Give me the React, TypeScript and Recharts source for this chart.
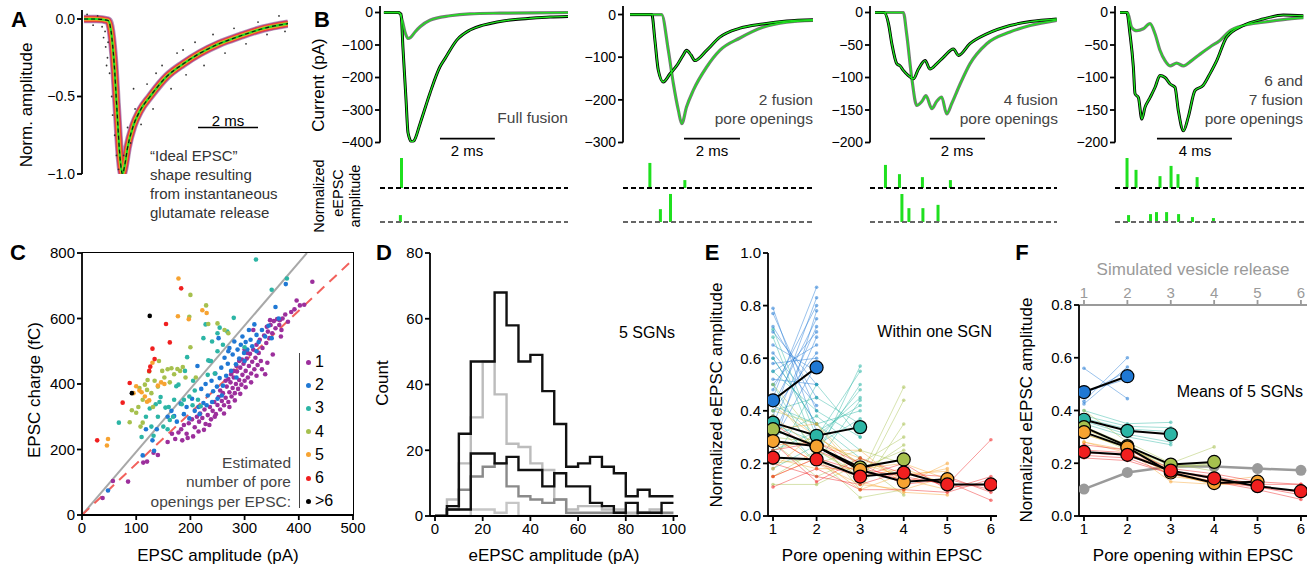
import React from "react";
import {
  ComposedChart,
  LineChart,
  ScatterChart,
  BarChart,
  Line,
  Scatter,
  Bar,
  XAxis,
  YAxis,
  ReferenceLine,
} from "recharts";

// ---------- A: ideal EPSC (time in ms, normalized amplitude) ----------
const A_T = [0, 0.4, 0.8, 0.9, 1.0, 1.1, 1.2, 1.28, 1.35, 1.45, 1.64, 1.87, 2.2, 2.76, 3.3, 3.87, 4.5, 5.2, 6.0, 6.8];
const A_V = [0, 0, -0.01, -0.08, -0.28, -0.6, -0.9, -1.0, -0.95, -0.83, -0.69, -0.59, -0.5, -0.37, -0.29, -0.22, -0.16, -0.11, -0.06, -0.03];
const A_NOISE = [
  [0.1, 0.03], [0.3, -0.04], [0.45, 0.02], [0.6, -0.05], [0.65, -0.12], [0.7, -0.08], [0.72, -0.18],
  [0.78, -0.25], [0.8, -0.15], [0.75, -0.3], [0.85, -0.35], [0.92, -0.5], [0.95, -0.62], [1.02, -0.75],
  [1.08, -0.88], [1.15, -0.97], [1.32, -0.88], [1.45, -0.7], [1.55, -0.8], [1.7, -0.58], [1.9, -0.68],
  [2.1, -0.42], [2.3, -0.58], [2.6, -0.3], [2.9, -0.45], [3.1, -0.22], [3.4, -0.36], [3.7, -0.15],
  [4.0, -0.3], [4.3, -0.1], [4.7, -0.22], [5.0, -0.06], [5.4, -0.16], [5.8, -0.02], [6.1, -0.1],
  [6.5, 0.02], [6.7, -0.08], [3.3, -0.2], [2.4, -0.35], [1.65, -0.45],
];

// ---------- B: example EPSCs (time in ms, current in pA) ----------
const B1_T_BLACK = [0, 0.5, 0.61, 0.68, 0.79, 0.86, 0.99, 1.07, 1.29, 1.64, 2.0, 2.18, 2.6, 3.07, 3.54, 4.04, 4.61, 5.21, 5.93, 6.57];
const B1_V_BLACK = [0, 0, -5, -110, -270, -370, -398, -395, -342, -249, -167, -142, -85, -54, -39, -29, -22, -18, -14, -12];
const B1_T_GRAY = [0, 0.54, 0.64, 0.75, 0.86, 0.96, 1.11, 1.29, 1.64, 2.36, 3.07, 4.14, 5.3, 6.57];
const B1_V_GRAY = [0, 0, -20, -60, -80, -76, -60, -44, -24, -10, -4, -2, -1, 0];

const B2_T_BLACK = [0, 0.78, 0.89, 1.01, 1.19, 1.43, 1.67, 1.9, 2.02, 2.18, 2.32, 2.74, 3.21, 3.93, 4.75, 5.6, 6.54];
const B2_V_BLACK = [0, 0, -60, -130, -158, -139, -120, -95, -84, -95, -108, -84, -53, -32, -22, -15, -12];
const B2_T_GRAY = [0, 1.13, 1.37, 1.55, 1.73, 1.85, 2.02, 2.26, 2.74, 3.21, 3.93, 4.75, 5.6, 6.54];
const B2_V_GRAY = [0, 0, -84, -162, -225, -256, -217, -178, -123, -84, -55, -30, -18, -14];

const B3_T_BLACK = [0, 0.32, 0.48, 0.6, 0.78, 0.89, 1.01, 1.19, 1.37, 1.55, 1.79, 1.96, 2.2, 2.44, 2.8, 2.98, 3.39, 3.99, 4.82, 5.54, 6.49];
const B3_V_BLACK = [0, 0, -17, -48, -79, -82, -89, -97, -102, -87, -74, -87, -79, -69, -56, -66, -48, -33, -20, -14, -10];
const B3_T_GRAY = [0, 1.01, 1.13, 1.31, 1.49, 1.67, 1.82, 2.03, 2.2, 2.38, 2.56, 2.74, 3.04, 3.39, 3.99, 4.82, 5.54, 6.49];
const B3_V_GRAY = [0, 0, -33, -100, -143, -137, -128, -148, -137, -130, -156, -140, -110, -79, -48, -30, -20, -12];

const B4_T_BLACK = [0, 0.36, 0.53, 0.71, 0.8, 0.98, 1.16, 1.33, 1.6, 1.87, 2.13, 2.4, 2.67, 2.93, 3.11, 3.38, 3.64, 4.0, 4.44, 4.8, 5.16, 5.69, 6.58, 7.64, 8.71, 9.78];
const B4_V_BLACK = [0, 0, -33, -84, -125, -131, -164, -146, -131, -115, -97, -100, -110, -115, -151, -182, -161, -120, -112, -94, -74, -38, -20, -10, -4, -5];
const B4_T_GRAY = [0, 0.4, 0.62, 0.89, 1.24, 1.6, 1.87, 2.13, 2.4, 2.67, 3.02, 3.38, 3.82, 4.27, 4.8, 5.33, 5.87, 6.58, 7.64, 8.71, 9.78];
const B4_V_GRAY = [0, 0, -23, -28, -25, -17, -33, -58, -74, -82, -78, -82, -74, -64, -53, -43, -28, -20, -15, -11, -8];

// fusion pore openings (time in ms, normalized eEPSC amplitude)
const B1_UP_T = [0.61];
const B1_UP_A = [0.91];
const B1_LOW_T = [0.57];
const B1_LOW_A = [0.21];
const B2_UP_T = [0.71, 1.96];
const B2_UP_A = [0.76, 0.24];
const B2_LOW_T = [1.07, 1.43];
const B2_LOW_A = [0.39, 0.85];
const B3_UP_T = [0.39, 0.89, 1.71, 2.71];
const B3_UP_A = [0.7, 0.42, 0.33, 0.24];
const B3_LOW_T = [0.96, 1.21, 1.71, 2.25];
const B3_LOW_A = [0.85, 0.42, 0.42, 0.52];
const B4_UP_T = [0.37, 0.85, 2.13, 2.72, 3.09, 4.11];
const B4_UP_A = [0.91, 0.55, 0.36, 0.67, 0.42, 0.33];
const B4_LOW_T = [0.48, 1.65, 1.97, 2.51, 3.15, 3.89, 5.01];
const B4_LOW_A = [0.21, 0.24, 0.3, 0.3, 0.24, 0.15, 0.12];

// ---------- C: EPSC amplitude (pA) vs charge (fC) ----------
const C_PURPLE = [
  [38, 52], [57, 104], [85, 102], [113, 160], [120, 163], [132, 190], [140, 183], [158, 223], [166, 248], [172, 232],
  [178, 252], [183, 262], [188, 275], [193, 248], [197, 280], [203, 292], [208, 268], [212, 300], [216, 285], [218, 310],
  [222, 296], [226, 322], [228, 278], [232, 305], [236, 330], [238, 292], [241, 318], [244, 345], [247, 308], [250, 336],
  [252, 360], [255, 322], [258, 348], [260, 372], [262, 335], [265, 358], [267, 392], [270, 345], [272, 375], [274, 405],
  [276, 362], [278, 388], [280, 420], [282, 372], [284, 400], [286, 438], [288, 385], [290, 412], [292, 450], [294, 398],
  [296, 428], [298, 462], [300, 410], [302, 440], [304, 478], [306, 420], [308, 455], [310, 492], [312, 432], [314, 468],
  [316, 505], [318, 445], [320, 480], [322, 520], [324, 458], [326, 495], [328, 535], [330, 470], [333, 510], [336, 548],
  [338, 430], [340, 525], [343, 560], [346, 540], [348, 580], [351, 555], [354, 592], [357, 570], [360, 598], [364, 580],
  [367, 545], [370, 600], [375, 612], [380, 590], [386, 620], [392, 628], [396, 655], [402, 640], [410, 642], [425, 712],
  [347, 595], [341, 575], [365, 595], [368, 565], [316, 565], [255, 380], [265, 410], [275, 430], [285, 455], [295, 475],
  [305, 495], [245, 300], [235, 275], [225, 260], [215, 255], [205, 240], [195, 235], [185, 228], [262, 310], [272, 330],
  [282, 350], [292, 370], [302, 390], [312, 405], [322, 425], [332, 445], [342, 465], [352, 490], [300, 505], [290, 470],
  [280, 440], [270, 415],
];
const C_BLUE = [
  [48, 75], [112, 182], [130, 228], [133, 196], [118, 262], [138, 262], [158, 300], [165, 318], [170, 302], [175, 285],
  [182, 340], [188, 308], [193, 330], [198, 295], [203, 355], [208, 318], [213, 455], [217, 308], [220, 385], [224, 342],
  [228, 400], [232, 365], [236, 470], [239, 410], [242, 378], [246, 432], [249, 392], [252, 540], [254, 418], [257, 450],
  [260, 395], [263, 480], [266, 425], [269, 462], [272, 510], [275, 440], [278, 490], [281, 530], [284, 460], [287, 505],
  [290, 478], [293, 520], [296, 545], [299, 495], [302, 528], [305, 505], [308, 565], [311, 535], [314, 515], [318, 582],
  [322, 550], [326, 528], [332, 565], [338, 545], [344, 578], [350, 540], [357, 635], [363, 600], [376, 705], [322, 500],
  [250, 355], [258, 365], [285, 420], [300, 470], [230, 335], [215, 330], [270, 500], [240, 345],
];
const C_TEAL = [
  [68, 282], [110, 238], [118, 300], [125, 325], [128, 270], [132, 242], [140, 300], [143, 345], [150, 270], [154, 328],
  [158, 262], [162, 290], [168, 300], [170, 352], [174, 393], [178, 398], [184, 338], [188, 352], [194, 482], [198, 362],
  [204, 335], [208, 380], [214, 352], [219, 332], [224, 540], [228, 582], [233, 472], [240, 530], [245, 432], [250, 555],
  [254, 572], [260, 520], [268, 560], [280, 602], [300, 512], [321, 780], [350, 688], [378, 722], [190, 440], [205, 410],
  [232, 428], [136, 338], [145, 360], [160, 330], [250, 500], [238, 470],
];
const C_OLIVE = [
  [88, 283], [92, 320], [100, 312], [104, 330], [106, 388], [108, 270], [112, 282], [116, 398], [121, 412], [124, 438],
  [128, 372], [134, 410], [140, 392], [131, 330], [148, 440], [152, 420], [158, 445], [165, 448], [170, 430], [176, 446],
  [181, 440], [186, 452], [191, 420], [200, 672], [198, 605], [200, 512], [229, 640], [233, 583], [250, 585], [263, 565],
  [270, 555], [210, 420], [142, 470], [120, 382], [112, 352], [162, 405],
];
const C_ORANGE = [
  [48, 232], [46, 212], [95, 372], [100, 393], [106, 380], [110, 375], [124, 350], [120, 346], [130, 465], [140, 395],
  [146, 405], [152, 400], [178, 722], [177, 607], [197, 598], [222, 625], [230, 617], [116, 362],
];
const C_RED = [[28, 228], [75, 343], [88, 403], [124, 440], [130, 508], [134, 476], [155, 583], [162, 527], [183, 692], [126, 453]];
const C_BLACK = [[125, 608], [92, 372]];
const C_LEGEND = ["1", "2", "3", "4", "5", "6", ">6"];

// ---------- D: eEPSC amplitude histograms, 5 SGNs (bins of 5 pA) ----------
const D_EDGES = [0, 5, 10, 15, 20, 25, 30, 35, 40, 45, 50, 55, 60, 65, 70, 75, 80, 85, 90, 95, 100];
const D_H1 = [0, 3, 25, 47, 47, 68, 58, 47, 49, 38, 28, 15, 16, 18, 15, 13, 6, 8, 6, 6];
const D_H2 = [0, 5, 16, 30, 47, 37, 22, 21, 16, 14, 5, 2, 3, 3, 2, 2, 1, 1, 2, 0];
const D_H3 = [0, 2, 8, 12, 15, 16, 9, 6, 5, 4, 5, 1, 1, 1, 1, 1, 0, 1, 1, 1];
const D_H4 = [0, 2, 2, 19, 19, 16, 18, 14, 14, 9, 13, 9, 9, 4, 3, 1, 4, 1, 1, 4];
const D_H5 = [0, 0, 0, 2, 2, 1, 4, 0, 0, 0, 0, 0, 0, 0, 0, 0, 0, 0, 0, 0];

// ---------- E: within one SGN ----------
const E_BLUE = [
  [0.79, 0.32], [0.77, 0.4], [0.72, 0.45], [0.7, 0.5], [0.65, 0.55], [0.6, 0.35], [0.58, 0.6], [0.55, 0.65],
  [0.5, 0.7], [0.48, 0.8], [0.45, 0.87], [0.42, 0.75], [0.4, 0.62], [0.38, 0.83], [0.35, 0.72], [0.3, 0.68],
  [0.28, 0.58], [0.25, 0.78], [0.62, 0.42], [0.52, 0.5],
];
const E_TEAL = [
  [0.71, 0.3, 0.45], [0.68, 0.25, 0.5], [0.6, 0.35, 0.4], [0.55, 0.4, 0.3], [0.5, 0.22, 0.57], [0.45, 0.3, 0.55],
  [0.4, 0.45, 0.35], [0.35, 0.28, 0.48], [0.3, 0.38, 0.25], [0.25, 0.32, 0.42], [0.2, 0.5, 0.3], [0.18, 0.27, 0.37],
  [0.42, 0.35, 0.22], [0.38, 0.2, 0.44],
];
const E_OLIVE = [
  [0.5, 0.3, 0.2, 0.3], [0.45, 0.25, 0.15, 0.49], [0.4, 0.35, 0.18, 0.25], [0.35, 0.2, 0.25, 0.2], [0.3, 0.28, 0.12, 0.44],
  [0.28, 0.15, 0.22, 0.15], [0.25, 0.3, 0.1, 0.35], [0.2, 0.22, 0.07, 0.1], [0.15, 0.25, 0.16, 0.27], [0.12, 0.12, 0.2, 0.08],
];
const E_ORANGE = [
  [0.42, 0.3, 0.2, 0.15, 0.18], [0.38, 0.25, 0.25, 0.12, 0.2], [0.33, 0.35, 0.15, 0.18, 0.12], [0.3, 0.2, 0.12, 0.1, 0.15],
  [0.27, 0.28, 0.22, 0.14, 0.1], [0.22, 0.18, 0.18, 0.2, 0.14], [0.18, 0.32, 0.13, 0.09, 0.08], [0.15, 0.22, 0.1, 0.16, 0.17],
];
const E_RED = [
  [0.35, 0.25, 0.18, 0.15, 0.12, 0.29], [0.3, 0.2, 0.15, 0.2, 0.1, 0.15], [0.25, 0.28, 0.2, 0.12, 0.14, 0.1],
  [0.2, 0.15, 0.12, 0.17, 0.11, 0.12], [0.15, 0.22, 0.17, 0.14, 0.13, 0.06], [0.11, 0.18, 0.1, 0.1, 0.09, 0.14],
  [0.28, 0.13, 0.22, 0.16, 0.15, 0.09],
];
const E_MEAN_BLUE = [0.44, 0.565];
const E_MEAN_TEAL = [0.355, 0.305, 0.338];
const E_MEAN_OLIVE = [0.33, 0.265, 0.185, 0.215];
const E_MEAN_ORANGE = [0.285, 0.265, 0.175, 0.13, 0.14];
const E_MEAN_RED = [0.222, 0.215, 0.15, 0.165, 0.12, 0.12];

// ---------- F: means of 5 SGNs ----------
const F_BLUE = [[0.56, 0.445], [0.435, 0.6], [0.425, 0.565], [0.47, 0.52], [0.46, 0.55]];
const F_TEAL = [[0.4, 0.35, 0.355], [0.38, 0.34, 0.335], [0.37, 0.33, 0.32], [0.36, 0.31, 0.28], [0.35, 0.3, 0.27]];
const F_OLIVE = [[0.4, 0.28, 0.2, 0.262], [0.34, 0.27, 0.19, 0.2], [0.33, 0.26, 0.19, 0.19], [0.32, 0.25, 0.2, 0.17], [0.31, 0.26, 0.18, 0.2]];
const F_ORANGE = [
  [0.33, 0.27, 0.17, 0.13, 0.15], [0.32, 0.26, 0.16, 0.12, 0.13], [0.31, 0.26, 0.15, 0.13, 0.13],
  [0.28, 0.25, 0.13, 0.12, 0.12], [0.28, 0.24, 0.16, 0.12, 0.13],
];
const F_RED = [
  [0.27, 0.25, 0.18, 0.16, 0.13, 0.12], [0.25, 0.24, 0.17, 0.15, 0.12, 0.12], [0.24, 0.23, 0.17, 0.14, 0.11, 0.09],
  [0.23, 0.22, 0.16, 0.13, 0.11, 0.08], [0.22, 0.21, 0.16, 0.13, 0.1, 0.063],
];
const F_MEAN_BLUE = [0.47, 0.53];
const F_MEAN_TEAL = [0.365, 0.323, 0.31];
const F_MEAN_OLIVE = [0.337, 0.265, 0.195, 0.205];
const F_MEAN_ORANGE = [0.318, 0.26, 0.165, 0.125, 0.13];
const F_MEAN_RED = [0.243, 0.232, 0.172, 0.143, 0.113, 0.094];
const F_SIM = [0.102, 0.165, 0.188, 0.188, 0.18, 0.173];

const OPENINGS = [1, 2, 3, 4, 5, 6];

// ---------- styling ----------
const FONT = '"Liberation Sans", Arial, Helvetica, sans-serif';
const PURPLE = "#9c2f9c";
const BLUE = "#1f78d4";
const TEAL = "#2cb5a5";
const OLIVE = "#a6c04e";
const ORANGE = "#f7a331";
const RED = "#f01f1f";
const GREEN = "#1fe01f";
const M0 = { top: 0, right: 0, bottom: 0, left: 0 };
// room around each plot so that end tick labels are not clipped
const PT = 12;
const PR = 16;
const PAD = { top: PT, right: PR, bottom: PT, left: 0 };
const AX = { stroke: "#000", strokeWidth: 1.8 };
const TICK = { fill: "#000", fontSize: 14 };

const minus = (d: number) => (v: number) => (v < 0 ? "\u2212" + Math.abs(v).toFixed(d) : v.toFixed(d));
const at = (left: number, top: number): React.CSSProperties => ({ position: "absolute", left, top });
const zip = (t: number[], v: number[]) => t.map((x, i) => ({ t: x, v: v[i] }));
const pts = (rows: number[][]) => rows.map(([x, y]) => ({ x, y }));
const series = (ys: number[]) => ys.map((y, i) => ({ x: OPENINGS[i], y }));
const dotShape = (r: number, fill: string) => (p: any) => <circle cx={p.cx} cy={p.cy} r={r} fill={fill} />;

function Txt({ x, y, children, anchor = "middle", size = 17, color = "#000", rot = false, bold = false }: any) {
  const tx = anchor === "middle" ? "-50%" : anchor === "end" ? "-100%" : "0%";
  return (
    <div
      style={{
        position: "absolute",
        left: x,
        top: y,
        transform: `translate(${tx},-50%)` + (rot ? " rotate(-90deg)" : ""),
        fontSize: size,
        color,
        fontWeight: bold ? 700 : 400,
        whiteSpace: "nowrap",
        lineHeight: 1,
      }}
    >
      {children}
    </div>
  );
}

const B_PANELS = [
  {
    axisX: 380, right: 568, top: 5.5, yDom: [-400, 20], yTicks: [-400, -300, -200, -100, 0], tDom: [-0.14, 6.57],
    black: zip(B1_T_BLACK, B1_V_BLACK), gray: zip(B1_T_GRAY, B1_V_GRAY), bar: [2.0, 3.96], barY: -388,
    up: zip(B1_UP_T, B1_UP_A), low: zip(B1_LOW_T, B1_LOW_A),
  },
  {
    axisX: 623, right: 813, top: 5.5, yDom: [-300, 20], yTicks: [-300, -200, -100, 0], tDom: [-0.25, 6.54],
    black: zip(B2_T_BLACK, B2_V_BLACK), gray: zip(B2_T_GRAY, B2_V_GRAY), bar: [1.93, 3.93], barY: -291,
    up: zip(B2_UP_T, B2_UP_A), low: zip(B2_LOW_T, B2_LOW_A),
  },
  {
    axisX: 870, right: 1057, top: 5.5, yDom: [-200, 10], yTicks: [-200, -150, -100, -50, 0], tDom: [-0.18, 6.5],
    black: zip(B3_T_BLACK, B3_V_BLACK), gray: zip(B3_T_GRAY, B3_V_GRAY), bar: [1.96, 3.93], barY: -194,
    up: zip(B3_UP_T, B3_UP_A), low: zip(B3_LOW_T, B3_LOW_A),
  },
  {
    axisX: 1115, right: 1305, top: 5.5, yDom: [-200, 10], yTicks: [-200, -150, -100, -50, 0], tDom: [-0.27, 9.87],
    black: zip(B4_T_BLACK, B4_V_BLACK), gray: zip(B4_T_GRAY, B4_V_GRAY), bar: [1.97, 5.97], barY: -194,
    up: zip(B4_UP_T, B4_UP_A), low: zip(B4_LOW_T, B4_LOW_A),
  },
];

function Stems({ left, width, top, data, tDom, base }: any) {
  return (
    <div style={at(left, top)}>
      <BarChart width={width} height={35} margin={M0} data={data}>
        <XAxis dataKey="t" type="number" domain={tDom} hide allowDataOverflow />
        <YAxis type="number" domain={[-0.06, 1]} hide allowDataOverflow />
        <ReferenceLine y={0} stroke={base} strokeWidth={2} strokeDasharray="5 3" />
        <Bar dataKey="v" fill={GREEN} barSize={3} isAnimationActive={false} />
      </BarChart>
    </div>
  );
}

function BPanel({ p }: any) {
  const left = p.axisX - 48;
  const w = p.right - left;
  const traces = [
    { d: p.gray, c: "#777", w: 3.2 },
    { d: p.black, c: "#000", w: 3 },
    { d: p.gray, c: GREEN, w: 1.4 },
    { d: p.black, c: GREEN, w: 1.4 },
  ];
  return (
    <>
      <div style={at(left, p.top - PT)}>
        <LineChart width={w + PR} height={142 - p.top + 2 * PT} margin={PAD}>
          <XAxis dataKey="t" type="number" domain={p.tDom} hide allowDataOverflow />
          <YAxis
            type="number" domain={p.yDom} ticks={p.yTicks} interval={0} tickFormatter={minus(0)} width={48}
            axisLine={AX} tickLine={AX} tickSize={5} tick={TICK} allowDataOverflow
          />
          {traces.map((s, i) => (
            <Line key={i} data={s.d} dataKey="v" stroke={s.c} strokeWidth={s.w} dot={false} type="monotone" isAnimationActive={false} />
          ))}
          <ReferenceLine segment={[{ x: p.bar[0], y: p.barY }, { x: p.bar[1], y: p.barY }]} stroke="#000" strokeWidth={1.6} />
        </LineChart>
      </div>
      <Stems left={p.axisX} width={p.right - p.axisX} top={155} data={p.up} tDom={p.tDom} base="#000" />
      <Stems left={p.axisX} width={p.right - p.axisX} top={189} data={p.low} tDom={p.tDom} base="#666" />
    </>
  );
}

const C_GROUPS = [
  { rows: C_PURPLE, c: PURPLE },
  { rows: C_BLUE, c: BLUE },
  { rows: C_TEAL, c: TEAL },
  { rows: C_OLIVE, c: OLIVE },
  { rows: C_ORANGE, c: ORANGE },
  { rows: C_RED, c: RED },
  { rows: C_BLACK, c: "#000" },
];

const E_BG = [
  { rows: E_BLUE, c: BLUE },
  { rows: E_TEAL, c: TEAL },
  { rows: E_OLIVE, c: OLIVE },
  { rows: E_ORANGE, c: ORANGE },
  { rows: E_RED, c: RED },
];
const E_MEANS = [
  { ys: E_MEAN_BLUE, c: BLUE },
  { ys: E_MEAN_TEAL, c: TEAL },
  { ys: E_MEAN_OLIVE, c: OLIVE },
  { ys: E_MEAN_ORANGE, c: ORANGE },
  { ys: E_MEAN_RED, c: RED },
];
const F_BG = [
  { rows: F_BLUE, c: BLUE },
  { rows: F_TEAL, c: TEAL },
  { rows: F_OLIVE, c: OLIVE },
  { rows: F_ORANGE, c: ORANGE },
  { rows: F_RED, c: RED },
];
const F_MEANS = [
  { ys: F_MEAN_BLUE, c: BLUE },
  { ys: F_MEAN_TEAL, c: TEAL },
  { ys: F_MEAN_OLIVE, c: OLIVE },
  { ys: F_MEAN_ORANGE, c: ORANGE },
  { ys: F_MEAN_RED, c: RED },
];

function bgLines(groups: any[], prefix: string) {
  return groups.flatMap((g, gi) =>
    g.rows.map((row: number[], ri: number) => (
      <Line
        key={`${prefix}${gi}-${ri}`}
        data={series(row)}
        dataKey="y"
        stroke={g.c}
        strokeOpacity={0.45}
        strokeWidth={1}
        dot={{ r: 1.8, fill: g.c, fillOpacity: 0.55, stroke: "none" }}
        type="linear"
        isAnimationActive={false}
      />
    ))
  );
}

function meanLines(groups: any[], prefix: string) {
  return groups.map((g, i) => (
    <Line
      key={`${prefix}${i}`}
      data={series(g.ys)}
      dataKey="y"
      stroke="#000"
      strokeWidth={2}
      dot={{ r: 6.5, fill: g.c, fillOpacity: 1, stroke: "#000", strokeWidth: 1.2 }}
      type="linear"
      isAnimationActive={false}
    />
  ));
}

export default function App() {
  const aTrace = zip(A_T, A_V);
  const aNoise = A_NOISE.map(([t, v]) => ({ t, v }));
  const band = [
    { c: "#5a1f66", w: 8.5, o: 0.45 },
    { c: "#c0307a", w: 7, o: 0.9 },
    { c: "#ee4a2a", w: 5.5, o: 1 },
    { c: "#f7a431", w: 3.5, o: 1 },
  ];
  const hist = D_EDGES.map((x, i) => {
    const k = Math.min(i, D_H1.length - 1);
    return { x, h1: D_H1[k], h2: D_H2[k], h3: D_H3[k], h4: D_H4[k], h5: D_H5[k] };
  });
  const histStyle = [
    { k: "h5", c: "#c6c6c6" },
    { k: "h2", c: "#bcbcbc" },
    { k: "h3", c: "#8a8a8a" },
    { k: "h4", c: "#111" },
    { k: "h1", c: "#111" },
  ];
  const xTicks16 = { fill: "#000", fontSize: 15 };

  return (
    <div
      style={{
        position: "absolute", left: 0, top: 0, width: 1313, height: 567,
        background: "#fff", fontFamily: FONT, overflow: "hidden",
      }}
    >
      {/* ---------------- A ---------------- */}
      <div style={at(22, 10 - PT)}>
        <ComposedChart width={266 + PR} height={164 + 2 * PT} margin={PAD}>
          <XAxis dataKey="t" type="number" domain={[-0.07, 6.8]} hide allowDataOverflow />
          <YAxis
            dataKey="v" type="number" domain={[-1, 0.058]} ticks={[-1, -0.5, 0]} interval={0} tickFormatter={minus(1)}
            width={60} axisLine={AX} tickLine={AX} tickSize={5} tick={TICK} allowDataOverflow
          />
          {band.map((b, i) => (
            <Line key={i} data={aTrace} dataKey="v" stroke={b.c} strokeOpacity={b.o} strokeWidth={b.w} dot={false} type="monotone" isAnimationActive={false} />
          ))}
          <Scatter data={aNoise} dataKey="v" shape={dotShape(0.9, "#333")} isAnimationActive={false} />
          <Line data={aTrace} dataKey="v" stroke={GREEN} strokeWidth={2.2} dot={false} type="monotone" isAnimationActive={false} />
          <Line data={aTrace} dataKey="v" stroke="#111" strokeWidth={1.2} strokeDasharray="4 3" dot={false} type="monotone" isAnimationActive={false} />
          <ReferenceLine segment={[{ x: 3.8, y: -0.7 }, { x: 5.8, y: -0.7 }]} stroke="#000" strokeWidth={1.6} />
        </ComposedChart>
      </div>
      <Txt x={19} y={20} size={22} bold>A</Txt>
      <Txt x={26} y={105} rot>Norm. amplitude</Txt>
      <Txt x={228} y={120} size={15}>2 ms</Txt>
      <Txt x={150} y={155} size={15} anchor="start" color="#333">“Ideal EPSC”</Txt>
      <Txt x={150} y={174} size={15} anchor="start" color="#333">shape resulting</Txt>
      <Txt x={150} y={193} size={15} anchor="start" color="#333">from instantaneous</Txt>
      <Txt x={150} y={212} size={15} anchor="start" color="#333">glutamate release</Txt>

      {/* ---------------- B ---------------- */}
      {B_PANELS.map((p, i) => (
        <BPanel key={i} p={p} />
      ))}
      <Txt x={322} y={20} size={22} bold>B</Txt>
      <Txt x={318} y={85} rot>Current (pA)</Txt>
      <Txt x={319} y={196} size={14.5} rot>Normalized</Txt>
      <Txt x={338} y={193} size={14.5} rot>eEPSC</Txt>
      <Txt x={355} y={196} size={14.5} rot>amplitude</Txt>
      <Txt x={568} y={118} size={15.5} anchor="end" color="#444">Full fusion</Txt>
      <Txt x={813} y={100} size={15.5} anchor="end" color="#444">2 fusion</Txt>
      <Txt x={813} y={119} size={15.5} anchor="end" color="#444">pore openings</Txt>
      <Txt x={1058} y={100} size={15.5} anchor="end" color="#444">4 fusion</Txt>
      <Txt x={1058} y={119} size={15.5} anchor="end" color="#444">pore openings</Txt>
      <Txt x={1303} y={81} size={15.5} anchor="end" color="#444">6 and</Txt>
      <Txt x={1303} y={100} size={15.5} anchor="end" color="#444">7 fusion</Txt>
      <Txt x={1303} y={119} size={15.5} anchor="end" color="#444">pore openings</Txt>
      <Txt x={467} y={150} size={15}>2 ms</Txt>
      <Txt x={712} y={150} size={15}>2 ms</Txt>
      <Txt x={957} y={150} size={15}>2 ms</Txt>
      <Txt x={1195} y={150} size={15}>4 ms</Txt>

      {/* ---------------- C ---------------- */}
      <div style={at(32, 253 - PT)}>
        <ScatterChart width={321 + PR} height={292 + 2 * PT} margin={PAD}>
          <XAxis
            dataKey="x" type="number" domain={[0, 500]} ticks={[0, 100, 200, 300, 400, 500]} interval={0} height={30}
            axisLine={AX} tickLine={AX} tickSize={5} tick={xTicks16} allowDataOverflow
          />
          <YAxis
            dataKey="y" type="number" domain={[0, 800]} ticks={[0, 200, 400, 600, 800]} interval={0} width={50}
            axisLine={AX} tickLine={AX} tickSize={5} tick={xTicks16} allowDataOverflow
          />
          <ReferenceLine segment={[{ x: 0, y: 0 }, { x: 415, y: 800 }]} stroke="#a8a8a8" strokeWidth={2} />
          {C_GROUPS.map((g, i) => (
            <Scatter key={i} data={pts(g.rows)} shape={dotShape(2.3, g.c)} isAnimationActive={false} />
          ))}
          <ReferenceLine segment={[{ x: 0, y: 0 }, { x: 500, y: 780 }]} stroke="#f2615c" strokeWidth={2} strokeDasharray="10 7" />
        </ScatterChart>
      </div>
      <div style={{ position: "absolute", left: 82, top: 252, width: 271, height: 263, borderTop: "1.8px solid #000", borderRight: "1.8px solid #000" }} />
      <div style={{ position: "absolute", left: 299, top: 353, width: 0, height: 155, borderLeft: "1.5px solid #444" }} />
      {C_LEGEND.map((lab, i) => (
        <React.Fragment key={lab}>
          <div
            style={{
              position: "absolute", left: 305.5, top: 359.5 + i * 23.2, width: 5, height: 5, borderRadius: 3,
              background: C_GROUPS[i].c,
            }}
          />
          <Txt x={315} y={362 + i * 23.2} size={16} anchor="start">{lab}</Txt>
        </React.Fragment>
      ))}
      <Txt x={291} y={463} size={15.5} anchor="end" color="#444">Estimated</Txt>
      <Txt x={291} y={482} size={15.5} anchor="end" color="#444">number of pore</Txt>
      <Txt x={291} y={502} size={15.5} anchor="end" color="#444">openings per EPSC:</Txt>
      <Txt x={18} y={253} size={22} bold>C</Txt>
      <Txt x={34} y={390} rot>EPSC charge (fC)</Txt>
      <Txt x={218} y={555}>EPSC amplitude (pA)</Txt>

      {/* ---------------- D ---------------- */}
      <div style={at(385, 253 - PT)}>
        <LineChart width={293 + PR} height={293 + 2 * PT} margin={PAD} data={hist}>
          <XAxis
            dataKey="x" type="number" domain={[-2.1, 101.9]} ticks={[0, 20, 40, 60, 80, 100]} interval={0} height={30}
            axisLine={AX} tickLine={AX} tickSize={5} tick={xTicks16} allowDataOverflow
          />
          <YAxis
            type="number" domain={[0, 80]} ticks={[0, 20, 40, 60, 80]} interval={0} width={45}
            axisLine={AX} tickLine={AX} tickSize={5} tick={xTicks16} allowDataOverflow
          />
          {histStyle.map((h) => (
            <Line key={h.k} dataKey={h.k} stroke={h.c} strokeWidth={2.4} type="stepAfter" dot={false} isAnimationActive={false} />
          ))}
        </LineChart>
      </div>
      <Txt x={384} y={253} size={22} bold>D</Txt>
      <Txt x={382} y={383} rot>Count</Txt>
      <Txt x={554} y={555}>eEPSC amplitude (pA)</Txt>
      <Txt x={675} y={333} size={16} anchor="end">5 SGNs</Txt>

      {/* ---------------- E ---------------- */}
      <div style={at(713, 253 - PT)}>
        <LineChart width={284 + PR} height={293 + 2 * PT} margin={PAD}>
          <XAxis
            dataKey="x" type="number" domain={[0.885, 6.14]} ticks={OPENINGS} interval={0} height={30}
            axisLine={AX} tickLine={AX} tickSize={5} tick={xTicks16} allowDataOverflow
          />
          <YAxis
            type="number" domain={[0, 1]} ticks={[0, 0.2, 0.4, 0.6, 0.8, 1]} interval={0} tickFormatter={minus(1)} width={55}
            axisLine={AX} tickLine={AX} tickSize={5} tick={xTicks16} allowDataOverflow
          />
          {bgLines(E_BG, "e")}
          {meanLines(E_MEANS, "em")}
        </LineChart>
      </div>
      <Txt x={712} y={253} size={22} bold>E</Txt>
      <Txt x={716} y={395} rot>Normalized eEPSC amplitude</Txt>
      <Txt x={882} y={555}>Pore opening within EPSC</Txt>
      <Txt x={992} y={332} size={16} anchor="end">Within one SGN</Txt>

      {/* ---------------- F ---------------- */}
      <div style={at(1024, 275 - PT)}>
        <LineChart width={283 + PR} height={271 + 2 * PT} margin={PAD}>
          <XAxis
            dataKey="x" type="number" domain={[0.885, 6.14]} ticks={OPENINGS} interval={0} height={30}
            axisLine={AX} tickLine={AX} tickSize={5} tick={xTicks16} allowDataOverflow
          />
          <XAxis
            xAxisId="top" orientation="top" dataKey="x" type="number" domain={[0.885, 6.14]} ticks={OPENINGS} interval={0}
            height={30} axisLine={{ stroke: "#9a9a9a", strokeWidth: 1.8 }} tickLine={{ stroke: "#9a9a9a", strokeWidth: 1.8 }}
            tickSize={5} tick={{ fill: "#9a9a9a", fontSize: 15 }} allowDataOverflow
          />
          <YAxis
            type="number" domain={[0, 0.8]} ticks={[0, 0.2, 0.4, 0.6, 0.8]} interval={0} tickFormatter={minus(1)} width={55}
            axisLine={AX} tickLine={AX} tickSize={5} tick={xTicks16} allowDataOverflow
          />
          <Line
            xAxisId="top" data={series(F_SIM)} dataKey="y" stroke="#9a9a9a" strokeWidth={2.5}
            dot={{ r: 5.5, fill: "#9a9a9a", stroke: "none" }} type="linear" isAnimationActive={false}
          />
          {bgLines(F_BG, "f")}
          {meanLines(F_MEANS, "fm")}
        </LineChart>
      </div>
      <Txt x={1022} y={253} size={22} bold>F</Txt>
      <Txt x={1026} y={410} rot>Normalized eEPSC amplitude</Txt>
      <Txt x={1193} y={555}>Pore opening within EPSC</Txt>
      <Txt x={1193} y={269} color="#9a9a9a">Simulated vesicle release</Txt>
      <Txt x={1303} y={392} size={16} anchor="end">Means of 5 SGNs</Txt>
    </div>
  );
}
